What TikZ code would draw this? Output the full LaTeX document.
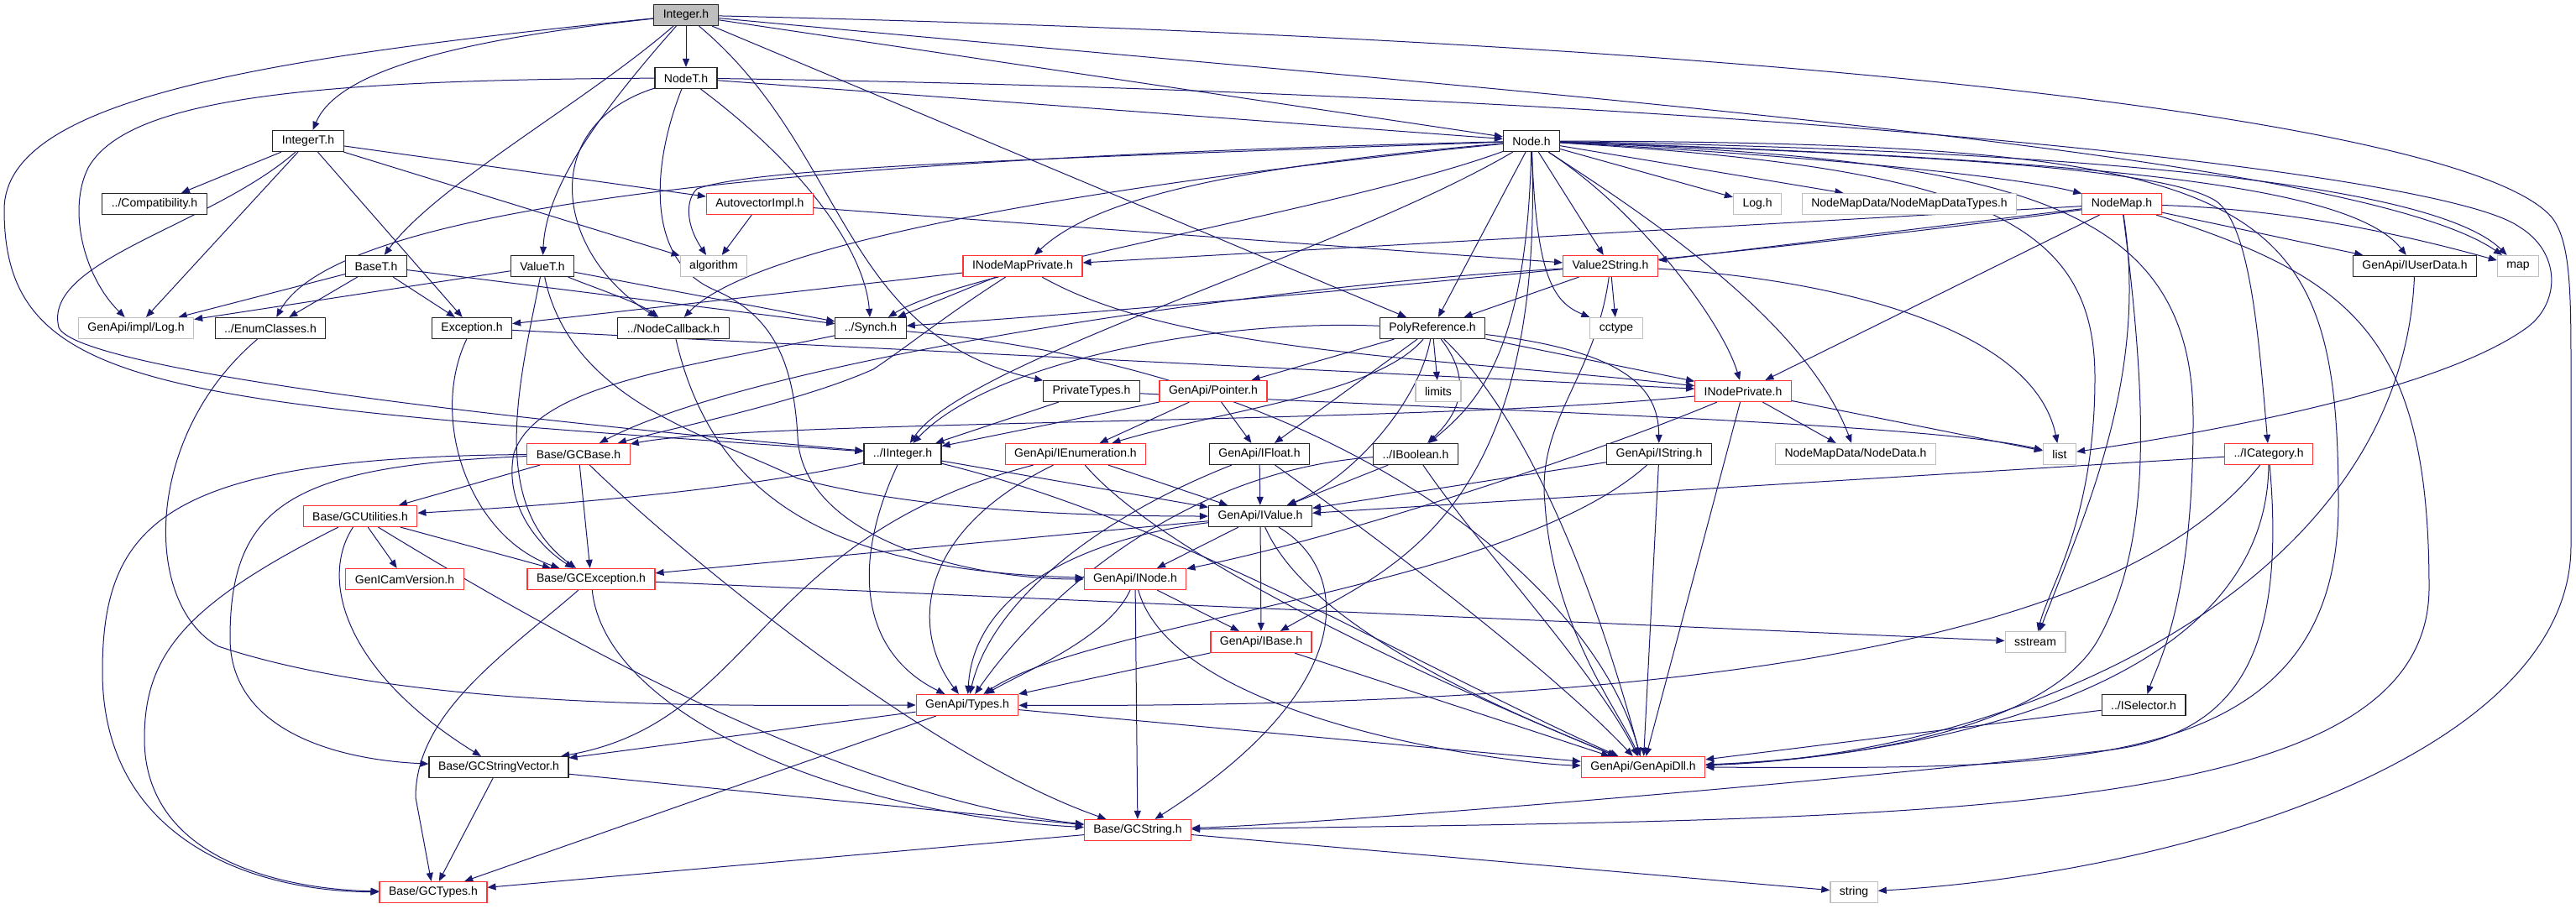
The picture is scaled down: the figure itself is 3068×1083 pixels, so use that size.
\documentclass[tikz,border=0pt]{standalone}
\usepackage{fontspec}
\setmainfont{Liberation Sans}
\usetikzlibrary{arrows.meta,backgrounds}
\definecolor{edgeblue}{HTML}{191970}
\definecolor{greyline}{HTML}{BFBFBF}
\definecolor{redline}{HTML}{FF3333}

\begin{document}
\begin{tikzpicture}[
  x=1pt, y=-1pt,
  file/.style={draw=black!85, line width=1.2pt, fill=white, rectangle, minimum height=25pt,
    inner xsep=11pt, inner ysep=0pt, font=\fontsize{14}{16}\selectfont},
  trunc/.style={file, draw=redline},
  sysfile/.style={file, draw=greyline},
  root/.style={file, fill=greyline},
  dep/.style={-{Triangle[length=10pt,width=8pt]}, color=edgeblue, line width=1pt},
]
\useasboundingbox (0,0) rectangle (3068,1083);

% rows of the include graph
\node[root] (integer) at (817,18) {Integer.h};
\node[file] (nodet) at (817,93) {NodeT.h};
\node[file] (integert) at (367,168) {IntegerT.h};
\node[file] (nodeh) at (1824,168) {Node.h};
\node[file] (compat) at (184,243) {../Compatibility.h};
\node[trunc] (autovec) at (905,243) {AutovectorImpl.h};
\node[sysfile] (logh) at (2093,243) {Log.h};
\node[sysfile] (nmdtypes) at (2274,243) {NodeMapData/NodeMapDataTypes.h};
\node[trunc] (nodemap) at (2527,243) {NodeMap.h};
\node[file] (baset) at (448,317) {BaseT.h};
\node[file] (valuet) at (646,317) {ValueT.h};
\node[sysfile] (algorithm) at (850,317) {algorithm};
\node[trunc] (inmp) at (1218,317) {INodeMapPrivate.h};
\node[trunc] (v2s) at (1918,317) {Value2String.h};
\node[file] (iuserdata) at (2876,317) {GenApi/IUserData.h};
\node[sysfile] (map) at (2999,317) {map};
\node[sysfile] (impllog) at (162,391) {GenApi/impl/Log.h};
\node[file] (enumcls) at (322,391) {../EnumClasses.h};
\node[file] (exception) at (562,391) {Exception.h};
\node[file] (nodecb) at (802,391) {../NodeCallback.h};
\node[file] (synch) at (1037,391) {../Synch.h};
\node[file] (polyref) at (1706,391) {PolyReference.h};
\node[sysfile] (cctype) at (1925,391) {cctype};
\node[file] (privtypes) at (1300,466) {PrivateTypes.h};
\node[trunc] (pointer) at (1445,466) {GenApi/Pointer.h};
\node[sysfile] (limits) at (1713,466) {limits};
\node[trunc] (inodepriv) at (2076,466) {INodePrivate.h};
\node[trunc] (gcbase) at (689,541) {Base/GCBase.h};
\node[file] (iinteger) at (1075,541) {../IInteger.h};
\node[trunc] (ienum) at (1281,541) {GenApi/IEnumeration.h};
\node[file] (ifloat) at (1500,541) {GenApi/IFloat.h};
\node[file] (iboolean) at (1686,541) {../IBoolean.h};
\node[file] (istring) at (1976,541) {GenApi/IString.h};
\node[sysfile] (nodedata) at (2210,541) {NodeMapData/NodeData.h};
\node[sysfile] (list) at (2453,541) {list};
\node[trunc] (icategory) at (2702,541) {../ICategory.h};
\node[trunc] (gcutil) at (429,615) {Base/GCUtilities.h};
\node[file] (ivalue) at (1501,615) {GenApi/IValue.h};
\node[trunc] (genicamver) at (482,690) {GenICamVersion.h};
\node[trunc] (gcexc) at (704,690) {Base/GCException.h};
\node[trunc] (inode) at (1352,690) {GenApi/INode.h};
\node[trunc] (ibase) at (1502,765) {GenApi/IBase.h};
\node[sysfile] (sstream) at (2424,765) {sstream};
\node[trunc] (types) at (1152,840) {GenApi/Types.h};
\node[file] (iselector) at (2553,840) {../ISelector.h};
\node[file] (gcstrvec) at (594,914) {Base/GCStringVector.h};
\node[trunc] (genapidll) at (1957,914) {GenApi/GenApiDll.h};
\node[trunc] (gcstring) at (1355,989) {Base/GCString.h};
\node[trunc] (gctypes) at (516,1063) {Base/GCTypes.h};
\node[sysfile] (string) at (2208,1063) {string};

\begin{scope}[on background layer]
\fill[white] (0,0) rectangle (3068,1083);
% Integer.h
\draw[dep] (integer) -- (nodet);
\draw[dep] (integer) .. controls (520,50) and (400,90) .. (integert);
\draw[dep] (integer) .. controls (700,120) and (520,220) .. (baset);
\draw[dep] (integer) .. controls (700,150) and (650,230) .. (valuet);
\draw[dep] (integer) .. controls (300,70) and (5,120) .. (5,250) .. controls (5,470) and (200,480) .. (iinteger);
\draw[dep] (integer) -- (nodeh);
\draw[dep] (integer) -- (polyref);
\draw[dep] (integer) .. controls (1010,180) and (1000,400) .. (privtypes);
\draw[dep] (integer) .. controls (1800,110) and (2800,180) .. (map);
\draw[dep] (integer) .. controls (2200,50) and (2950,150) .. (3040,260) .. controls (3062,290) and (3062,350) .. (3062,450) -- (3062,650) .. controls (3062,900) and (2600,1040) .. (string);
% NodeT.h
\draw[dep] (nodet) -- (nodeh);
\draw[dep] (nodet) .. controls (350,95) and (150,120) .. (105,200) .. controls (80,250) and (100,330) .. (impllog);
\draw[dep] (nodet) .. controls (640,150) and (660,300) .. (nodecb);
\draw[dep] (nodet) .. controls (960,200) and (1030,300) .. (synch);
\draw[dep] (nodet) .. controls (775,200) and (770,310) .. (850,345) .. controls (920,375) and (945,430) .. (950,520) .. controls (955,640) and (1150,690) .. (inode);
\draw[dep] (nodet) .. controls (2000,110) and (2900,200) .. (3000,270) .. controls (3050,300) and (3050,360) .. (3010,390) .. controls (2900,470) and (2600,520) .. (list);
% IntegerT.h
\draw[dep] (integert) -- (compat);
\draw[dep] (integert) -- (impllog);
\draw[dep] (integert) -- (exception);
\draw[dep] (integert) -- (autovec);
\draw[dep] (integert) -- (algorithm);
\draw[dep] (integert) .. controls (250,270) and (50,310) .. (70,390) .. controls (90,440) and (600,500) .. (iinteger);
% Node.h
\draw[dep] (nodeh) -- (logh);
\draw[dep] (nodeh) -- (nmdtypes);
\draw[dep] (nodeh) .. controls (2150,185) and (2400,210) .. (nodemap);
\draw[dep] (nodeh) -- (v2s);
\draw[dep] (nodeh) -- (polyref);
\draw[dep] (nodeh) .. controls (1830,330) and (1850,360) .. (cctype);
\draw[dep] (nodeh) .. controls (1950,250) and (2050,380) .. (inodepriv);
\draw[dep] (nodeh) .. controls (1950,250) and (2150,380) .. (nodedata);
\draw[dep] (nodeh) .. controls (2500,190) and (2800,220) .. (iuserdata);
\draw[dep] (nodeh) .. controls (2500,180) and (2900,220) .. (map);
\draw[dep] (nodeh) .. controls (2300,185) and (2580,200) .. (2640,240) .. controls (2680,270) and (2690,400) .. (icategory);
\draw[dep] (nodeh) .. controls (2400,190) and (2612,240) .. (2612,500) .. controls (2612,720) and (2570,790) .. (iselector);
\draw[dep] (nodeh) .. controls (2700,170) and (2785,230) .. (2785,600) .. controls (2785,930) and (2450,915) .. (genapidll);
\draw[dep] (nodeh) .. controls (2350,200) and (2495,260) .. (2495,450) .. controls (2495,620) and (2440,700) .. (sstream);
\draw[dep] (nodeh) .. controls (1200,190) and (900,200) .. (830,225) .. controls (815,240) and (818,270) .. (algorithm);
\draw[dep] (nodeh) .. controls (1450,200) and (1300,240) .. (inmp);
\draw[dep] (nodeh) .. controls (1600,250) and (1150,320) .. (synch);
\draw[dep] (nodeh) .. controls (1300,220) and (900,290) .. (nodecb);
\draw[dep] (nodeh) .. controls (900,190) and (400,250) .. (enumcls);
\draw[dep] (nodeh) .. controls (1600,300) and (1150,430) .. (iinteger);
\draw[dep] (nodeh) .. controls (1818,420) and (1760,480) .. (iboolean);
\draw[dep] (nodeh) .. controls (1840,620) and (1650,680) .. (ibase);
% AutovectorImpl.h
\draw[dep] (autovec) -- (algorithm);
\draw[dep] (autovec) -- (v2s);
% NodeMap.h
\draw[dep] (nodemap) -- (inmp);
\draw[dep] (nodemap) -- (v2s);
\draw[dep] (nodemap) .. controls (2200,290) and (1500,360) .. (synch);
\draw[dep] (nodemap) -- (inodepriv);
\draw[dep] (nodemap) -- (iuserdata);
\draw[dep] (nodemap) .. controls (2750,250) and (2900,290) .. (map);
\draw[dep] (nodemap) .. controls (2560,450) and (2480,620) .. (sstream);
\draw[dep] (nodemap) .. controls (2560,500) and (2560,650) .. (2500,760) .. controls (2440,870) and (2200,905) .. (genapidll);
\draw[dep] (nodemap) .. controls (2800,330) and (2893,400) .. (2893,700) .. controls (2893,980) and (2300,975) .. (gcstring);
% BaseT.h and ValueT.h
\draw[dep] (baset) -- (impllog);
\draw[dep] (baset) -- (enumcls);
\draw[dep] (baset) -- (exception);
\draw[dep] (baset) -- (synch);
\draw[dep] (valuet) -- (impllog);
\draw[dep] (valuet) .. controls (700,340) and (760,360) .. (nodecb);
\draw[dep] (valuet) -- (synch);
\draw[dep] (valuet) .. controls (620,450) and (580,600) .. (gcexc);
\draw[dep] (valuet) .. controls (680,480) and (850,520) .. (950,570) .. controls (1100,610) and (1300,615) .. (ivalue);
% INodeMapPrivate.h, Value2String.h, GenApi/IUserData.h
\draw[dep] (inmp) -- (exception);
\draw[dep] (inmp) .. controls (1120,380) and (1085,410) .. (1040,440) .. controls (950,480) and (800,510) .. (gcbase);
\draw[dep] (inmp) -- (synch);
\draw[dep] (inmp) .. controls (1400,420) and (1700,425) .. (inodepriv);
\draw[dep] (v2s) -- (polyref);
\draw[dep] (v2s) -- (cctype);
\draw[dep] (v2s) .. controls (2150,330) and (2420,380) .. (list);
\draw[dep] (v2s) .. controls (1900,450) and (1830,500) .. (1840,600) .. controls (1850,750) and (1930,850) .. (genapidll);
\draw[dep] (v2s) .. controls (1500,340) and (900,430) .. (gcbase);
\draw[dep] (iuserdata) .. controls (2860,700) and (2400,900) .. (genapidll);
% row of impl/Log.h
\draw[dep] (enumcls) .. controls (170,520) and (170,720) .. (260,770) .. controls (500,850) and (900,840) .. (types);
\draw[dep] (exception) .. controls (510,500) and (560,640) .. (gcexc);
\draw[dep] (exception) -- (inodepriv);
\draw[dep] (nodecb) .. controls (850,600) and (1000,680) .. (inode);
\draw[dep] (synch) .. controls (800,440) and (640,460) .. (612,540) .. controls (600,600) and (640,650) .. (gcexc);
\draw[dep] (synch) .. controls (1600,440) and (1900,700) .. (genapidll);
\draw[dep] (polyref) .. controls (1450,380) and (1180,430) .. (iinteger);
\draw[dep] (polyref) -- (ifloat);
\draw[dep] (polyref) -- (limits);
\draw[dep] (polyref) .. controls (1690,480) and (1610,570) .. (ivalue);
\draw[dep] (polyref) .. controls (1760,460) and (1730,500) .. (iboolean);
\draw[dep] (polyref) -- (inodepriv);
\draw[dep] (polyref) .. controls (1950,420) and (1975,470) .. (istring);
\draw[dep] (polyref) -- (pointer);
\draw[dep] (polyref) .. controls (1640,470) and (1450,490) .. (ienum);
\draw[dep] (polyref) .. controls (1820,500) and (1900,700) .. (genapidll);
% row of PrivateTypes.h
\draw[dep] (privtypes) -- (iinteger);
\draw[dep] (privtypes) .. controls (1800,490) and (2300,505) .. (list);
\draw[dep] (pointer) -- (iinteger);
\draw[dep] (pointer) -- (ienum);
\draw[dep] (pointer) -- (ifloat);
\draw[dep] (inodepriv) .. controls (1900,540) and (1600,640) .. (inode);
\draw[dep] (inodepriv) -- (genapidll);
\draw[dep] (inodepriv) -- (nodedata);
\draw[dep] (inodepriv) -- (list);
\draw[dep] (inodepriv) .. controls (1700,505) and (900,500) .. (gcbase);
% row of Base/GCBase.h
\draw[dep] (gcbase) -- (gcutil);
\draw[dep] (gcbase) -- (gcexc);
\draw[dep] (gcbase) .. controls (800,650) and (1100,900) .. (gcstring);
\draw[dep] (gcbase) .. controls (200,545) and (122,620) .. (122,800) .. controls (122,1000) and (300,1062) .. (gctypes);
\draw[dep] (gcbase) .. controls (350,555) and (274,600) .. (274,760) .. controls (274,870) and (400,905) .. (gcstrvec);
\draw[dep] (iinteger) .. controls (900,580) and (700,600) .. (gcutil);
\draw[dep] (iinteger) .. controls (1010,680) and (1030,780) .. (types);
\draw[dep] (iinteger) -- (ivalue);
\draw[dep] (iinteger) .. controls (1400,620) and (1700,800) .. (genapidll);
\draw[dep] (ienum) .. controls (900,640) and (900,860) .. (gcstrvec);
\draw[dep] (ienum) .. controls (1080,640) and (1090,760) .. (types);
\draw[dep] (ienum) -- (ivalue);
\draw[dep] (ienum) .. controls (1400,680) and (1800,850) .. (genapidll);
\draw[dep] (ifloat) .. controls (1300,620) and (1180,720) .. (types);
\draw[dep] (ifloat) -- (ivalue);
\draw[dep] (ifloat) .. controls (1640,640) and (1850,800) .. (genapidll);
\draw[dep] (iboolean) .. controls (1420,560) and (1250,700) .. (types);
\draw[dep] (iboolean) -- (ivalue);
\draw[dep] (iboolean) .. controls (1760,650) and (1900,800) .. (genapidll);
\draw[dep] (istring) -- (ivalue);
\draw[dep] (istring) .. controls (1800,700) and (1300,740) .. (types);
\draw[dep] (istring) -- (genapidll);
\draw[dep] (icategory) -- (ivalue);
\draw[dep] (icategory) .. controls (2560,720) and (2200,845) .. (types);
\draw[dep] (icategory) .. controls (2700,820) and (2300,900) .. (genapidll);
\draw[dep] (icategory) .. controls (2725,800) and (2650,880) .. (2500,895) .. controls (2200,930) and (1600,980) .. (gcstring);
% lower rows
\draw[dep] (gcutil) -- (genicamver);
\draw[dep] (gcutil) -- (gcexc);
\draw[dep] (gcutil) .. controls (380,690) and (410,800) .. (gcstrvec);
\draw[dep] (gcutil) .. controls (220,720) and (172,780) .. (172,880) .. controls (172,1030) and (350,1060) .. (gctypes);
\draw[dep] (gcutil) .. controls (650,750) and (1000,950) .. (gcstring);
\draw[dep] (ivalue) -- (inode);
\draw[dep] (ivalue) -- (gcexc);
\draw[dep] (ivalue) -- (ibase);
\draw[dep] (ivalue) .. controls (1560,750) and (1800,850) .. (genapidll);
\draw[dep] (ivalue) .. controls (1300,640) and (1160,700) .. (types);
\draw[dep] (ivalue) .. controls (1610,680) and (1620,820) .. (gcstring);
\draw[dep] (gcexc) .. controls (600,780) and (495,850) .. (495,950) -- (gctypes);
\draw[dep] (gcexc) .. controls (720,850) and (1000,970) .. (gcstring);
\draw[dep] (gcexc) -- (sstream);
\draw[dep] (inode) .. controls (1320,760) and (1220,800) .. (types);
\draw[dep] (inode) -- (gcstring);
\draw[dep] (inode) -- (ibase);
\draw[dep] (inode) .. controls (1400,860) and (1800,910) .. (genapidll);
\draw[dep] (ibase) -- (types);
\draw[dep] (ibase) -- (genapidll);
\draw[dep] (iselector) -- (genapidll);
\draw[dep] (types) -- (gcstrvec);
\draw[dep] (types) -- (gctypes);
\draw[dep] (types) -- (genapidll);
\draw[dep] (gcstrvec) -- (gctypes);
\draw[dep] (gcstrvec) -- (gcstring);
\draw[dep] (gcstring) -- (gctypes);
\draw[dep] (gcstring) -- (string);
\end{scope}
\end{tikzpicture}
\end{document}
